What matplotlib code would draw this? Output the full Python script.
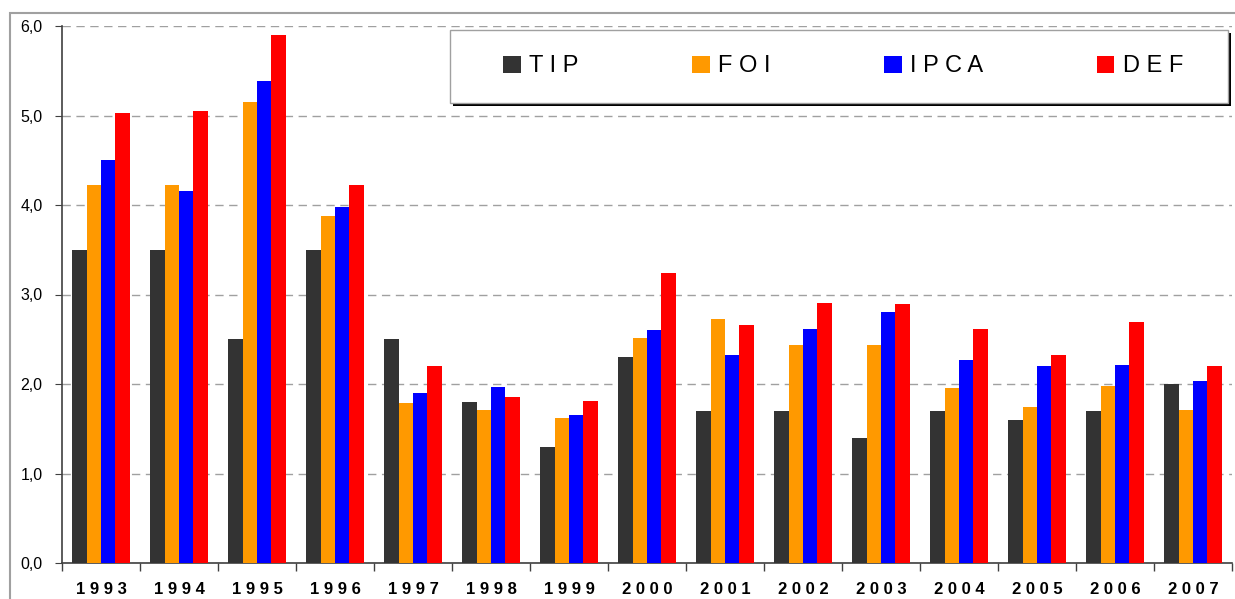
import numpy as np
import matplotlib.pyplot as plt
from matplotlib.patches import Rectangle

plt.rcParams['font.family'] = ['Liberation Sans', 'DejaVu Sans']

years = ["1993", "1994", "1995", "1996", "1997", "1998", "1999", "2000",
         "2001", "2002", "2003", "2004", "2005", "2006", "2007"]
tip = [3.5, 3.5, 2.5, 3.5, 2.5, 1.8, 1.3, 2.3, 1.7, 1.7, 1.4, 1.7, 1.6, 1.7, 2.0]
foi = [4.22, 4.22, 5.15, 3.88, 1.79, 1.71, 1.62, 2.51, 2.73, 2.44, 2.44, 1.96, 1.74, 1.98, 1.71]
ipca = [4.5, 4.16, 5.39, 3.98, 1.9, 1.97, 1.65, 2.6, 2.32, 2.61, 2.8, 2.27, 2.2, 2.21, 2.03]
defl = [5.03, 5.05, 5.9, 4.22, 2.2, 1.86, 1.81, 3.24, 2.66, 2.91, 2.89, 2.61, 2.32, 2.69, 2.2]
yticks = [0, 1, 2, 3, 4, 5, 6]

series = [("TIP", tip, "#333333"),
          ("FOI", foi, "#ff9900"),
          ("IPCA", ipca, "#0000ff"),
          ("DEF", defl, "#ff0000")]

W, H = 1235, 599
fig = plt.figure(figsize=(W / 100, H / 100), dpi=100)
ax = fig.add_axes([62 / W, 36 / H, 1170 / W, 537 / H])
ax.patch.set_alpha(0)

x = np.arange(len(years))
w = 0.183
for i, (name, vals, col) in enumerate(series):
    ax.bar(x + (i - 1.5) * w, vals, w, color=col, label=" ".join(name), zorder=3)

ax.set_xlim(-0.5, len(years) - 0.5)
ax.set_ylim(0, 6)

# y axis
ax.set_yticks(yticks)
ax.set_yticklabels([f"{v:.1f}".replace(".", ",") for v in yticks], fontsize=11.5)
ax.tick_params(axis='y', length=5, color='#404040', pad=9)
ax.set_axisbelow(True)
ax.yaxis.grid(True, ls=(0, (6, 4)), color='#a0a0a0', lw=1)

# x axis: labels centred, tick marks between categories
ax.set_xticks(x)
ax.set_xticklabels([" ".join(y) for y in years], fontsize=12, fontweight='bold')
ax.tick_params(axis='x', which='major', length=0, pad=14)
ax.set_xticks(np.arange(-0.5, len(years)), minor=True)
ax.tick_params(axis='x', which='minor', length=6, color='#404040', width=1)

for s in ['top', 'right']:
    ax.spines[s].set_visible(False)
for s in ['left', 'bottom']:
    ax.spines[s].set_color('#404040')
    ax.spines[s].set_linewidth(1.2)

# legend entries spread across, frame drawn separately below
ax.legend(loc='center', ncol=4, mode='expand',
          bbox_to_anchor=(503 / W, 1 - 103 / H, 680 / W, 73 / H),
          bbox_transform=fig.transFigure, frameon=False,
          fontsize=17, handlelength=0.75, handleheight=0.75,
          handletextpad=0.35, borderaxespad=0, borderpad=0)

fig.add_artist(Rectangle((453 / W, 1 - 106 / H), 778 / W, 73 / H,
                         transform=fig.transFigure, facecolor='black',
                         edgecolor='black', lw=0, zorder=-2))
fig.add_artist(Rectangle((450 / W, 1 - 103 / H), 778 / W, 73 / H,
                         transform=fig.transFigure, facecolor='white',
                         edgecolor='#a0a0a0', lw=1, zorder=-1))

# outer chart border
fig.add_artist(Rectangle((10 / W, -0.1), 1.2, 1 - 13 / H + 0.1,
                         transform=fig.transFigure, fill=False,
                         edgecolor='#a0a0a0', lw=1.5, zorder=-3))

fig.savefig("out.png", dpi=100)
